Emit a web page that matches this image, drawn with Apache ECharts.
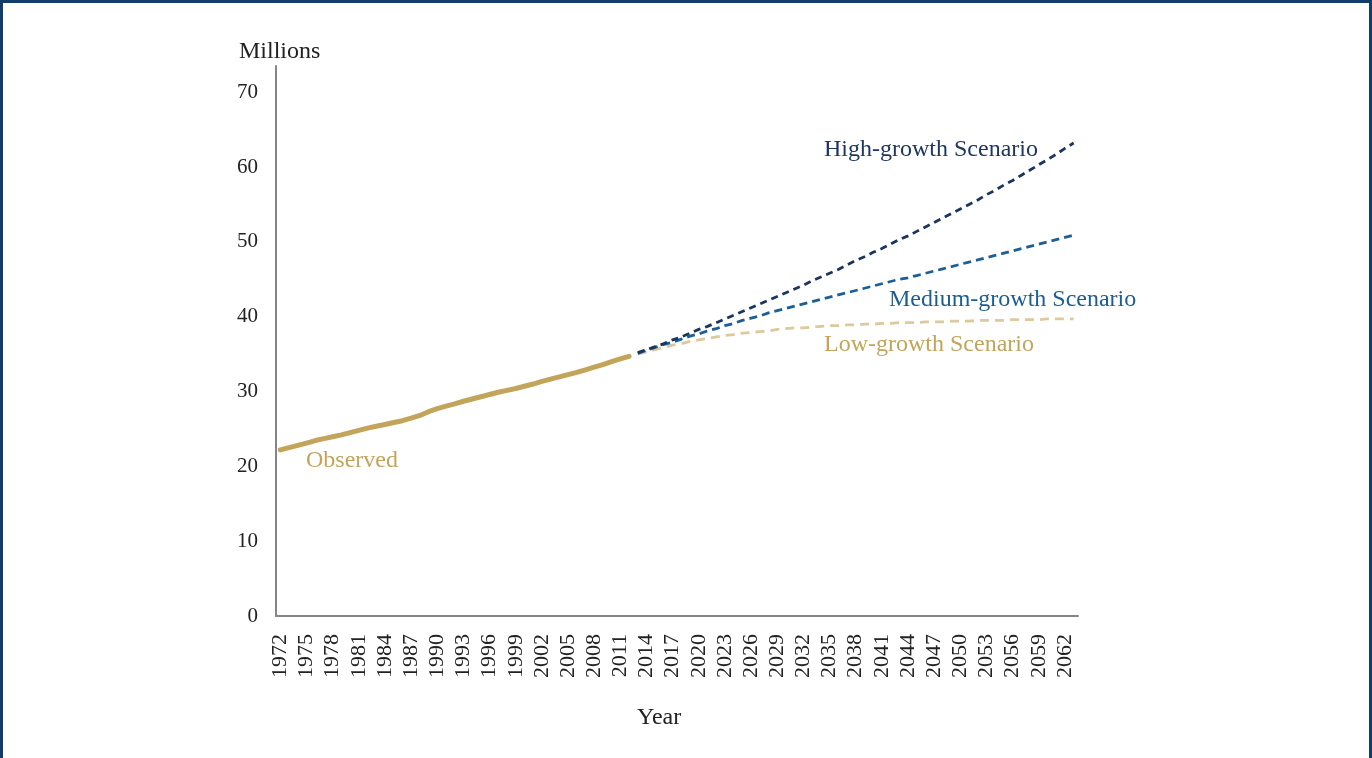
<!DOCTYPE html>
<html>
<head>
<meta charset="utf-8">
<script src="https://cdn.jsdelivr.net/npm/echarts@6/dist/echarts.min.js"></script>
<style>
html,body{margin:0;padding:0;background:#fff;}
#chart{width:1372px;height:758px;}
#frame{position:absolute;left:0;top:0;width:1366px;height:758px;border-top:3px solid #123d6b;border-left:3px solid #123d6b;border-right:3px solid #123d6b;pointer-events:none;}
</style>
</head>
<body>
<div id="chart"></div>
<div id="frame"></div>
<script>
// Categories: years 1972..2063
const firstYear = 1972, lastYear = 2063;
const years = [];
for (let y = firstYear; y <= lastYear; y++) years.push(String(y));

// Observed population (millions), 1972-2012
const observed = [22.2,22.5,22.8,23.1,23.45,23.7,23.95,24.2,24.5,24.8,25.1,25.35,25.6,25.85,26.1,26.45,26.8,27.3,27.7,28.05,28.35,28.7,29.0,29.3,29.6,29.9,30.15,30.4,30.7,31.0,31.35,31.65,31.95,32.25,32.55,32.9,33.25,33.6,34.0,34.35,34.7];

// Projections (millions), 2013-2063
const highGrowth = [35.2,35.6,36.0,36.4,36.9,37.3,37.8,38.3,38.7,39.2,39.7,40.2,40.7,41.2,41.7,42.2,42.7,43.2,43.7,44.2,44.8,45.3,45.8,46.3,46.9,47.5,48.0,48.6,49.1,49.7,50.3,50.8,51.4,52.0,52.6,53.2,53.8,54.4,55.0,55.6,56.3,56.9,57.6,58.2,58.9,59.6,60.3,61.0,61.7,62.5,63.2];
const mediumGrowth = [35.1,35.5,35.9,36.3,36.6,37.0,37.4,37.7,38.1,38.4,38.8,39.1,39.5,39.8,40.1,40.5,40.8,41.1,41.4,41.7,42.0,42.3,42.6,42.9,43.2,43.5,43.8,44.1,44.4,44.7,45.0,45.2,45.5,45.8,46.1,46.4,46.7,47.0,47.3,47.6,47.9,48.2,48.5,48.8,49.1,49.4,49.7,50.0,50.3,50.6,50.9];
const lowGrowth = [35.0,35.3,35.6,35.9,36.2,36.4,36.7,36.9,37.1,37.3,37.5,37.6,37.8,37.9,38.0,38.1,38.3,38.4,38.5,38.5,38.6,38.7,38.8,38.8,38.9,38.9,39.0,39.0,39.1,39.1,39.2,39.2,39.2,39.3,39.3,39.3,39.4,39.4,39.4,39.5,39.5,39.5,39.5,39.6,39.6,39.6,39.6,39.7,39.7,39.7,39.7];

const projStart = 2013;
function pad(values, startYear) {
  const out = years.map(() => null);
  values.forEach((v, i) => { out[startYear - firstYear + i] = v; });
  return out;
}

const FONT = '"Liberation Serif", "DejaVu Serif", serif';
const chart = echarts.init(document.getElementById('chart'));
chart.setOption({
  backgroundColor: '#ffffff',
  animation: false,
  grid: {left: 276, right: 294, top: 66, bottom: 142},
  xAxis: {
    type: 'category',
    data: years,
    boundaryGap: true,
    axisLine: {lineStyle: {color: '#858585', width: 2}},
    axisTick: {show: false},
    axisLabel: {rotate: 90, interval: 2, margin: 18, color: '#222', fontFamily: FONT, fontSize: 22}
  },
  yAxis: {
    type: 'value',
    min: 0, max: 73.5, interval: 10,
    axisLine: {show: true, lineStyle: {color: '#858585', width: 2}},
    axisTick: {show: false},
    splitLine: {show: false},
    axisLabel: {showMaxLabel: false, margin: 18, color: '#222', fontFamily: FONT, fontSize: 21}
  },
  series: [
    {name: 'Low-growth Scenario', type: 'line', data: pad(lowGrowth, projStart), symbol: 'none', z: 2,
     lineStyle: {color: '#dcc99c', width: 2.8, type: [9, 6]}},
    {name: 'Medium-growth Scenario', type: 'line', data: pad(mediumGrowth, projStart), symbol: 'none', z: 3,
     lineStyle: {color: '#1b5f96', width: 2.8, type: [8, 5]}},
    {name: 'High-growth Scenario', type: 'line', data: pad(highGrowth, projStart), symbol: 'none', z: 4,
     lineStyle: {color: '#1c355e', width: 2.8, type: [7, 5]}},
    {name: 'Observed', type: 'line', data: pad(observed, firstYear), symbol: 'none', z: 5,
     lineStyle: {color: '#c2a55a', width: 5, cap: 'round'}}
  ],
  graphic: [
    {type: 'text', left: 239, top: 40, style: {text: 'Millions', fill: '#222', font: '24px ' + FONT}},
    {type: 'text', left: 637, top: 706, style: {text: 'Year', fill: '#222', font: '24px ' + FONT}},
    {type: 'text', left: 824, top: 138, style: {text: 'High-growth Scenario', fill: '#1f3760', font: '24px ' + FONT}},
    {type: 'text', left: 889, top: 288, style: {text: 'Medium-growth Scenario', fill: '#1a5e94', font: '24px ' + FONT}},
    {type: 'text', left: 824, top: 333, style: {text: 'Low-growth Scenario', fill: '#c2a55a', font: '24px ' + FONT}},
    {type: 'text', left: 306, top: 449, style: {text: 'Observed', fill: '#c2a55a', font: '24px ' + FONT}}
  ]
});
</script>
</body>
</html>
